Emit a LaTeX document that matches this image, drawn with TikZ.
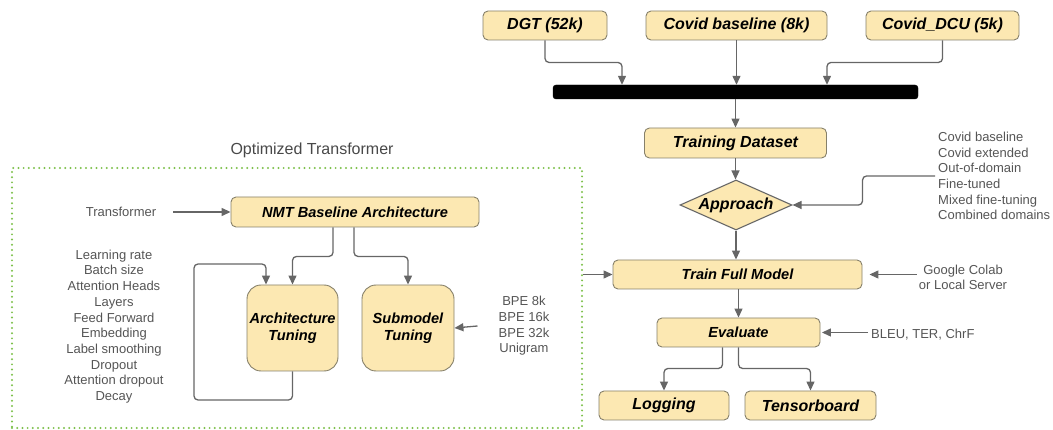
\documentclass[tikz,border=0pt]{standalone}
\usepackage{fontspec}
\setmainfont{Liberation Sans}
\usetikzlibrary{shapes.geometric,arrows.meta}
\definecolor{boxfill}{HTML}{FCE8B2}
\definecolor{boxdraw}{HTML}{86806A}
\definecolor{lncol}{HTML}{666666}
\definecolor{txtcol}{HTML}{555555}
\definecolor{grn}{HTML}{7DC04B}
\tikzset{
  box/.style={draw=boxdraw, fill=boxfill, line width=0.9pt, rounded corners=5pt, inner sep=0pt, align=center},
  big/.style={font=\fontsize{16}{19}\selectfont\bfseries\itshape},
  mid/.style={font=\fontsize{14.6}{17.5}\selectfont\bfseries\itshape},
  lst/.style={font=\fontsize{13}{15.7}\selectfont, text=txtcol, inner sep=0pt, align=center},
  arr/.style={draw=lncol, line width=1.3pt, rounded corners=4pt, -{Triangle[length=9pt,width=8pt]}},
  frame/.style={draw=grn, line width=2.2pt, dash pattern=on 0pt off 5.2pt, line cap=round}
}
\begin{document}
\begin{tikzpicture}[x=1pt,y=-1pt]
\useasboundingbox (0,0) rectangle (1053,430);
% right column
\node[box,big,minimum width=124,minimum height=29] (dgt) at (545,25.5) {DGT (52k)};
\node[box,big,minimum width=181,minimum height=29] (cb) at (736.5,25.5) {Covid baseline (8k)};
\node[box,big,minimum width=153,minimum height=29] (dcu) at (942.5,25.5) {Covid\_DCU (5k)};
\node[draw=black, fill=black, rounded corners=3pt, minimum width=365, minimum height=14, inner sep=0pt] (bar) at (735.5,92) {};
\node[box,big,minimum width=182,minimum height=30] (td) at (735.5,143) {Training Dataset};
\node[diamond, aspect=2.2, draw=lncol, fill=boxfill, line width=1.1pt, big, minimum width=112, minimum height=50, inner sep=0pt] (app) at (736,205) {Approach};
\node[lst, align=left, anchor=west] (alist) at (938,176) {Covid baseline\\Covid extended\\Out-of-domain\\Fine-tuned\\Mixed fine-tuning\\Combined domains};
\node[box,mid,minimum width=249,minimum height=29] (train) at (737.5,274.5) {Train Full Model};
\node[lst] (gc) at (963,277.5) {Google Colab\\or Local Server};
\node[box,mid,minimum width=163,minimum height=29] (eval) at (738.5,332.5) {Evaluate};
\node[lst, anchor=west] (bleu) at (871,335) {BLEU, TER, ChrF};
\node[box,big,minimum width=130,minimum height=29] (log) at (664,405.5) {Logging};
\node[box,big,minimum width=131,minimum height=29] (tb) at (810.5,405.5) {Tensorboard};
% left group
\node[font=\fontsize{16}{19}\selectfont, text=txtcol!85!black] (title) at (312,150) {Optimized Transformer};
\node[frame, minimum width=570, minimum height=260, inner sep=0pt] (frm) at (297,298) {};
\node[lst] (trn) at (121,212) {Transformer};
\node[box,mid,minimum width=248,minimum height=30] (nmt) at (355,212) {NMT Baseline Architecture};
\node[box,mid,rounded corners=14pt,minimum width=91,minimum height=86] (arch) at (292.5,328) {Architecture\\Tuning};
\node[box,mid,rounded corners=14pt,minimum width=92,minimum height=86] (sub) at (408,328) {Submodel\\Tuning};
\node[lst] (hyp) at (114,326.5) {Learning rate\\Batch size\\Attention Heads\\Layers\\Feed Forward\\Embedding\\Label smoothing\\Dropout\\Attention dropout\\Decay};
\node[lst] (bpe) at (524,326) {BPE 8k\\BPE 16k\\BPE 32k\\Unigram};
% connectors right
\draw[arr] (dgt.south) -- ++(0,22) -| ([xshift=-113.5pt]bar.north);
\draw[arr] (cb.south) -- (cb.south |- bar.north);
\draw[arr] (dcu.south) -- ++(0,22) -| ([xshift=91.5pt]bar.north);
\draw[arr] (bar.south) -- (bar.south |- td.north);
\draw[arr] (td.south) -- (td.south |- app.north);
\draw[arr] ([xshift=-3pt]alist.west) -| ([xshift=70pt]app.east) -- (app.east);
\draw[arr] (app.south) -- (app.south |- train.north);
\draw[arr] (frm.east |- train.west) -- (train.west);
\draw[arr, shorten >=7pt] ([xshift=-2pt]gc.west |- train.east) -- (train.east);
\draw[arr, shorten >=1.5pt] ([xshift=-3pt]bleu.west |- eval.east) -- (eval.east);
\draw[arr] (train.south -| eval.north) -- (eval.north);
\draw[arr] ([xshift=-16pt]eval.south) -- ++(0,21) -| (log.north);
\draw[arr] (eval.south) -- ++(0,21) -| (tb.north);
% connectors left
\draw[arr] ([xshift=17pt]trn.east) -- (nmt.west);
\draw[arr] ([xshift=-22pt]nmt.south) -- ++(0,29) -| (arch.north);
\draw[arr] ([xshift=-1pt]nmt.south) -- ++(0,29) -| (sub.north);
\draw[arr] (arch.south) |- (194,400) -- (194,264) -| ([xshift=-26.5pt]arch.north);
\draw[arr] ([xshift=-21pt]bpe.west) -- (sub.east);
\end{tikzpicture}
\end{document}
